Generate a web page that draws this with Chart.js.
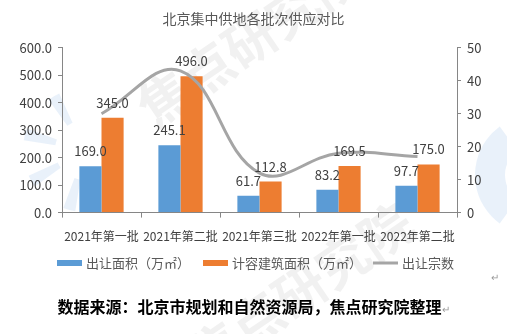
<!DOCTYPE html>
<html>
<head>
<meta charset="utf-8">
<script src="https://cdn.jsdelivr.net/npm/chart.js@4"></script>
<style>
  html, body { margin: 0; padding: 0; background: #fff; }
  #wrap { position: relative; width: 507px; height: 334px; }
  #source {
    position: absolute; left: 0; top: 294px; width: 507px; text-align: center;
    font-family: "Noto Sans CJK SC", sans-serif; font-weight: bold; font-size: 16px; color: #000;
  }
  .mark { font-weight: normal; font-size: 10px; color: #999; }
  #mark2 { position: absolute; left: 491px; top: 272px; }
</style>
</head>
<body>
<div id="wrap">
  <canvas id="supplyChart" width="507" height="334"></canvas>
  <span id="mark2" class="mark">↵</span>
  <div id="source">数据来源：北京市规划和自然资源局，焦点研究院整理<span class="mark">↵</span></div>
</div>
<script>
// Batches of centralised land supply
const batches = ["2021年第一批", "2021年第二批", "2021年第三批", "2022年第一批", "2022年第二批"];
// Land area sold (10k m²)
const landArea = [169.0, 245.1, 61.7, 83.2, 97.7];
// Buildable floor area (10k m²)
const floorArea = [345.0, 496.0, 112.8, 169.5, 175.0];
// Number of parcels sold
const parcelCount = [30, 43, 12, 18, 17];

const FONT = '"Noto Sans CJK SC", sans-serif';
const AXIS_GRAY = "#868686";

// Faint watermark behind the plot
const watermark = {
    id: "watermark",
    beforeDraw(chart) {
        const c = chart.ctx;
        c.save();
        // pale blue fan logo
        c.fillStyle = "rgba(120,170,225,0.16)";
        for (let i = 0; i < 4; i++) {
            const a0 = Math.PI * (0.55 + i * 0.25);
            c.beginPath();
            c.arc(85, 150, 62, a0, a0 + 0.2);
            c.arc(85, 150, 30, a0 + 0.2, a0, true);
            c.closePath();
            c.fill();
        }
        c.beginPath();
        c.arc(535, 175, 60, Math.PI * 0.7, Math.PI * 1.3);
        c.arc(535, 175, 30, Math.PI * 1.3, Math.PI * 0.7, true);
        c.closePath();
        c.fill();
        c.restore();
        // grey rotated text
        [[250, 40], [300, 290]].forEach(([x, y]) => {
            c.save();
            c.fillStyle = "rgba(190,190,190,0.22)";
            c.font = "bold 52px " + FONT;
            c.textAlign = "center";
            c.textBaseline = "middle";
            c.translate(x, y);
            c.rotate(-0.6);
            c.fillText("焦点研究院", 0, 0);
            c.restore();
        });
    }
};

// Value labels above the bars
const barLabels = {
    id: "barLabels",
    afterDatasetsDraw(chart) {
        const c = chart.ctx;
        c.save();
        c.font = "13px " + FONT;
        c.fillStyle = "#404040";
        c.textAlign = "center";
        c.textBaseline = "middle";
        [0, 1].forEach(di => {
            chart.getDatasetMeta(di).data.forEach((bar, i) => {
                const v = chart.data.datasets[di].data[i];
                c.fillText(v.toFixed(1), bar.x, bar.y - 15);
            });
        });
        c.restore();
    }
};

// Legend row under the category labels
const legendRow = {
    id: "legendRow",
    afterDraw(chart) {
        const c = chart.ctx;
        const y = 263;
        const xs = [57, 203, 373];
        c.save();
        c.font = "13px " + FONT;
        c.textBaseline = "middle";
        chart.data.datasets.forEach((ds, i) => {
            const x = xs[i];
            c.fillStyle = ds.backgroundColor;
            if (ds.type === "line") {
                c.fillRect(x, y - 1.5, 25, 3);
            } else {
                c.fillRect(x, y - 3, 25, 6);
            }
            c.fillStyle = "#595959";
            c.fillText(ds.label, x + 29, y);
        });
        c.restore();
    }
};

const ctx = document.getElementById("supplyChart").getContext("2d");

new Chart(ctx, {
    data: {
        labels: batches,
        datasets: [
            {
                type: "bar",
                label: "出让面积（万㎡）",
                data: landArea,
                backgroundColor: "#5B9BD5",
                yAxisID: "y",
                order: 1,
                categoryPercentage: 0.56,
                barPercentage: 1.0
            },
            {
                type: "bar",
                label: "计容建筑面积（万㎡）",
                data: floorArea,
                backgroundColor: "#ED7D31",
                yAxisID: "y",
                order: 1,
                categoryPercentage: 0.56,
                barPercentage: 1.0
            },
            {
                type: "line",
                label: "出让宗数",
                data: parcelCount,
                borderColor: "#A5A5A5",
                backgroundColor: "#A5A5A5",
                borderWidth: 3,
                tension: 0.4,
                pointRadius: 0,
                yAxisID: "y1",
                order: 0
            }
        ]
    },
    options: {
        responsive: false,
        animation: false,
        layout: { padding: { left: 0, right: 0, top: 0, bottom: 78 } },
        plugins: {
            title: {
                display: true,
                text: "北京集中供地各批次供应对比",
                color: "#595959",
                font: { family: FONT, size: 14, weight: "normal" },
                padding: { top: 10, bottom: 21 }
            },
            legend: { display: false },
            tooltip: { enabled: false }
        },
        scales: {
            x: {
                grid: { display: true, offset: true, drawOnChartArea: false, color: AXIS_GRAY, tickLength: 5 },
                border: { color: AXIS_GRAY },
                ticks: { color: "#404040", font: { family: FONT, size: 12 }, maxRotation: 0, autoSkip: false, padding: 12 }
            },
            y: {
                position: "left",
                min: 0,
                max: 600,
                grid: { drawOnChartArea: false, color: AXIS_GRAY, tickLength: 4 },
                border: { color: AXIS_GRAY },
                ticks: {
                    stepSize: 100,
                    color: "#404040",
                    font: { family: FONT, size: 13 },
                    padding: 6,
                    callback: v => v.toFixed(1)
                },
                afterFit(scale) { scale.width = 62; }
            },
            y1: {
                position: "right",
                min: 0,
                max: 50,
                grid: { drawOnChartArea: false, color: AXIS_GRAY, tickLength: 4 },
                border: { color: AXIS_GRAY },
                ticks: { stepSize: 10, color: "#404040", font: { family: FONT, size: 13 }, padding: 6 },
                afterFit(scale) { scale.width = 50; }
            }
        }
    },
    plugins: [watermark, barLabels, legendRow]
});
</script>
</body>
</html>
